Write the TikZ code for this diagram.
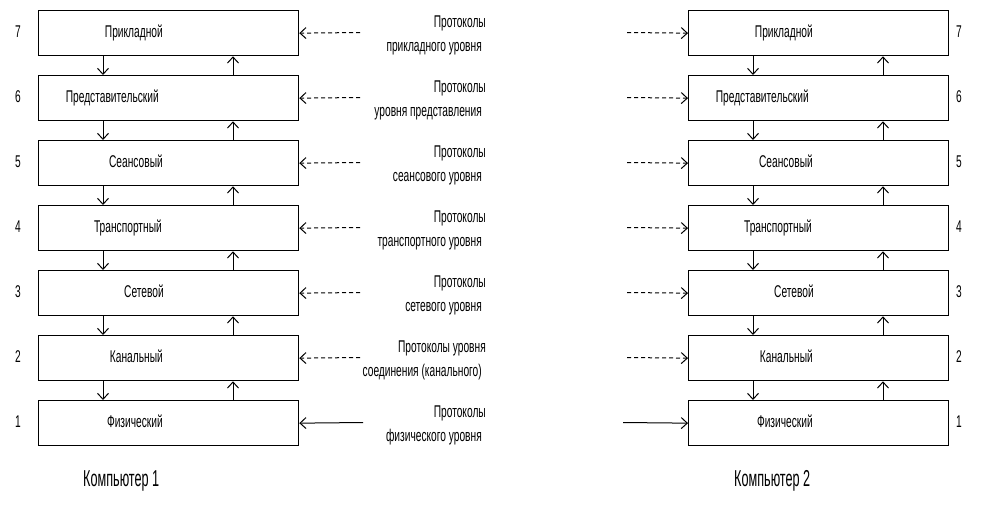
\documentclass[tikz,border=0pt]{standalone}
\usepackage{fontspec}
\setmainfont[FakeStretch=0.6]{Liberation Sans}
\newfontfamily\bigfnt[FakeStretch=0.55]{Liberation Sans}
\usetikzlibrary{arrows.meta}
\tikzset{
  box/.style={draw, line width=1.3pt, minimum width=260pt, minimum height=45pt, inner sep=0pt, anchor=north west},
  txt/.style={font=\fontsize{17}{20}\selectfont, inner sep=0pt},
  bigtxt/.style={font=\bigfnt\fontsize{23}{26}\selectfont, inner sep=0pt},
  arr/.style={-{Straight Barb[length=6pt,width=11pt]}, line width=1pt},
  dsh/.style={arr, dash pattern=on 4pt off 3pt}
}
\begin{document}
\begin{tikzpicture}[x=1pt,y=-1pt]
\useasboundingbox[fill=white] (0,0) rectangle (986,507);
\foreach \k/\name/\xr/\pa/\pb/\st in {
  7/Прикладной/163/Протоколы/прикладного уровня/dsh,
  6/Представительский/159/Протоколы/уровня представления/dsh,
  5/Сеансовый/163/Протоколы/сеансового уровня/dsh,
  4/Транспортный/162/Протоколы/транспортного уровня/dsh,
  3/Сетевой/164/Протоколы/сетевого уровня/dsh,
  2/Канальный/163/Протоколы уровня/соединения (канального)/dsh,
  1/Физический/163/Протоколы/физического уровня/arr}{
  \pgfmathsetmacro\t{10+(7-\k)*65}
  \node[box] (L\k) at (38,\t) {};
  \node[box] (R\k) at (688,\t) {};
  \node[txt, anchor=base east] (Lt\k) at (\xr,\t+27.5) {\name};
  \node[txt, anchor=base east] (Rt\k) at (\xr+650,\t+27.5) {\name};
  \node[txt, anchor=base] (Ln\k) at (18,\t+27.5) {\k};
  \node[txt, anchor=base] (Rn\k) at (959,\t+27.5) {\k};
  \node[txt, anchor=base east] (Ma\k) at (486,\t+17) {\pa};
  \node[txt, anchor=base east] (Mb\k) at (482,\t+41) {\pb};
  \ifnum\k=1
    \coordinate (La\k) at (363,\t+22.5);
    \coordinate (Ra\k) at (623,\t+22.5);
  \else
    \coordinate (La\k) at (360,\t+22.5);
    \coordinate (Ra\k) at (627,\t+22.5);
  \fi
  \draw[\st] (La\k) -- (L\k.east);
  \draw[\st] (Ra\k) -- (R\k.west);
}
\foreach \k [evaluate=\k as \m using int(\k-1)] in {7,6,5,4,3,2}{
  \draw[arr] ([xshift=65pt]L\k.south west) -- ([xshift=65pt]L\m.north west);
  \draw[arr] ([xshift=195pt]L\m.north west) -- ([xshift=195pt]L\k.south west);
  \draw[arr] ([xshift=65pt]R\k.south west) -- ([xshift=65pt]R\m.north west);
  \draw[arr] ([xshift=195pt]R\m.north west) -- ([xshift=195pt]R\k.south west);
}
\node[bigtxt, anchor=base west] (C1) at (83,486) {Компьютер 1};
\node[bigtxt, anchor=base west] (C2) at (734,486) {Компьютер 2};
\end{tikzpicture}
\end{document}
